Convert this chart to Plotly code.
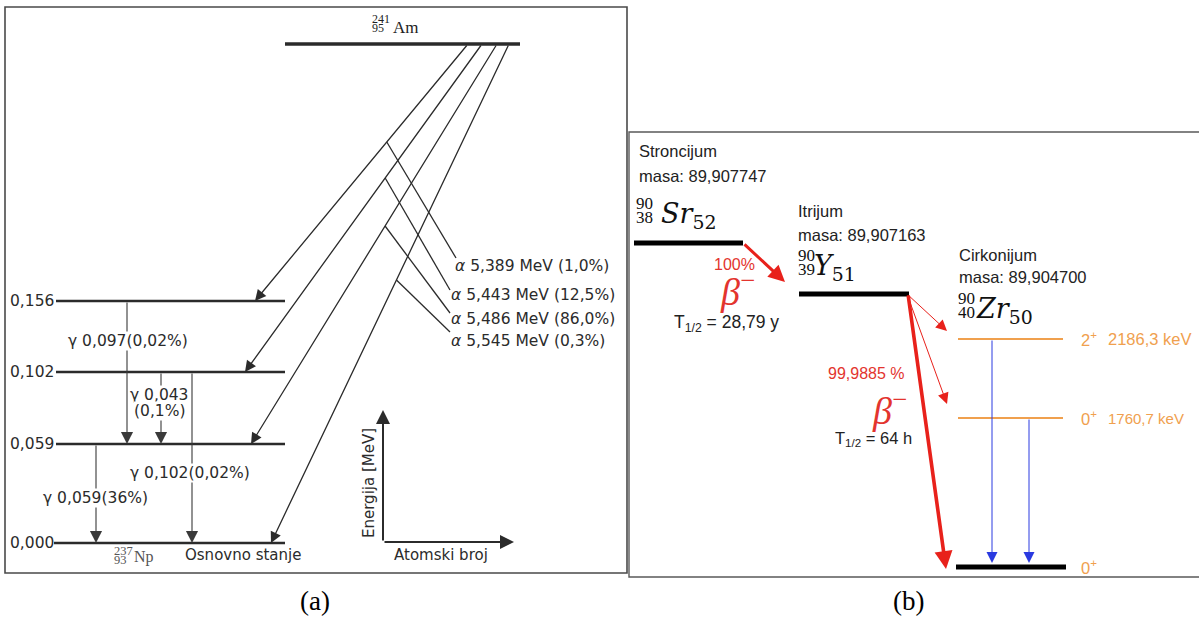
import plotly.graph_objects as go

# ---------------- Am-241 alpha decay into Np-237 (energies in MeV) ----------------
np_level_mev = [0.156, 0.102, 0.059, 0.000]
np_level_text = ["0,156", "0,102", "0,059", "0,000"]

alpha_energy_text = ["5,389", "5,443", "5,486", "5,545"]
alpha_intensity = ["1,0%", "12,5%", "86,0%", "0,3%"]
alpha_final_level = [0.156, 0.102, 0.059, 0.000]

gamma_from = [0.156, 0.102, 0.102, 0.059]
gamma_to = [0.059, 0.059, 0.000, 0.000]
gamma_energy_text = ["0,097", "0,043", "0,102", "0,059"]
gamma_intensity = ["0,02%", "0,1%", "0,02%", "36%"]

# ---------------- Sr-90 -> Y-90 -> Zr-90 beta decay chain ----------------
chain_name = ["Stroncijum", "Itrijum", "Cirkonijum"]
chain_mass = ["89,907747", "89,907163", "89,904700"]
chain_symbol = ["Sr", "Y", "Zr"]
chain_A = [90, 90, 90]
chain_Z = [38, 39, 40]
chain_N = [52, 51, 50]
beta_branch = ["100%", "99,9885 %"]
half_life = ["28,79 y", "64 h"]
zr_level_kev = [2186.3, 1760.7, 0.0]
zr_level_spin = ["2", "0", "0"]
zr_level_text = ["2186,3 keV", "1760,7 keV", ""]

# ---------------- drawing layout (canvas units) ----------------
W, H = 1199, 619
NP_Y = {0.156: 301, 0.102: 372, 0.059: 444, 0.000: 543}
NP_X0, NP_X1 = 56, 285
AM_Y, AM_X0, AM_X1 = 44, 285, 520
ALPHA_X_START = [468, 482, 497, 509]
ALPHA_X_END = [255, 245, 251, 271]
BRANCH_Y = [142, 178, 226, 280]
BRANCH_END = [(456, 258), (450, 290), (450, 313), (450, 332)]
ALPHA_LABEL = [(454, 266), (450, 295), (450, 319), (450, 341)]
GAMMA_X = [127, 161, 192, 96]
GAMMA_LABEL = [(128, 341), (159, 395), (190, 473), (95, 498)]

# nuclide blocks in panel (b): text column x, name y, scripts (x, centre y), symbol x
CHAIN_TXT_X = [638, 797, 958]
CHAIN_NAME_Y = [151, 211, 255]
CHAIN_MASS_Y = [176, 235, 277]
CHAIN_SC = [(635, 210), (797, 262), (957, 305)]
CHAIN_SYM_X = [660, 813, 975]
CHAIN_LEVEL = [(634, 743, 243), (799, 909, 294)]

ZR_Y = {2186.3: 339, 1760.7: 418, 0.0: 567}

DARK = "#2b2b2b"
RED = "#e8211b"
RED_TXT = "#e3342e"
ORANGE = "#f0a04e"
BLUE = "#2a3ae0"
SANS_A = "DejaVu Sans"
SANS_B = "Liberation Sans"
SERIF = "Liberation Serif"
MATH = "DejaVu Serif"

fig = go.Figure()
ann = []


def seg(x0, y0, x1, y1, color=DARK, width=1.3):
    fig.add_trace(go.Scatter(x=[x0, x1], y=[y0, y1], mode="lines",
                             line=dict(color=color, width=width),
                             hoverinfo="skip", showlegend=False))


def arrow(x0, y0, x1, y1, color=DARK, width=1.2, size=2.0, head=2):
    ann.append(dict(x=x1, y=y1, ax=x0, ay=y0, xref="x", yref="y",
                    axref="x", ayref="y", text="", showarrow=True,
                    arrowhead=head, arrowsize=size, arrowwidth=width,
                    arrowcolor=color, standoff=0, startstandoff=0))


def text(x, y, s, size=15.5, color=DARK, family=SANS_A, xanchor="center",
         yanchor="middle", angle=0, bg=None):
    d = dict(x=x, y=y, xref="x", yref="y", text=s, showarrow=False,
             font=dict(family=family, size=size, color=color),
             xanchor=xanchor, yanchor=yanchor, textangle=angle,
             borderpad=0)
    if bg:
        d["bgcolor"] = bg
    ann.append(d)


def scripts(x, yc, A, Z, size, color, dy=7):
    # mass number above atomic number, left of the element symbol
    text(x, yc - dy, str(A), size=size, color=color, family=SERIF,
         xanchor="left")
    text(x, yc + dy, str(Z), size=size, color=color, family=SERIF,
         xanchor="left")


# ---------------- panel (a) ----------------
# energy levels of Np-237
for e, lab in zip(np_level_mev, np_level_text):
    seg(NP_X0 if e > 0 else 54, NP_Y[e], NP_X1, NP_Y[e], width=2.6)
    text(9, NP_Y[e], lab, xanchor="left")

# Am-241 parent level
seg(AM_X0, AM_Y, AM_X1, AM_Y, width=3.5)
scripts(371, 23, 241, 95, 12, "#222", dy=4.5)
text(392, 27, "Am", size=17, family=SERIF, color="#222", xanchor="left")

# alpha transitions and their labels
for i, lvl in enumerate(alpha_final_level):
    xs, xe, ye = ALPHA_X_START[i], ALPHA_X_END[i], NP_Y[lvl]
    arrow(xs, AM_Y, xe, ye, width=1.3, size=1.7)
    by = BRANCH_Y[i]
    bx = xs + (xe - xs) * (by - AM_Y) / (ye - AM_Y)
    seg(bx, by, BRANCH_END[i][0], BRANCH_END[i][1], width=1.3)
    lx, ly = ALPHA_LABEL[i]
    text(lx, ly, f"<i>α</i> {alpha_energy_text[i]} MeV ({alpha_intensity[i]})",
         xanchor="left")

# gamma transitions
for i in range(len(gamma_from)):
    arrow(GAMMA_X[i], NP_Y[gamma_from[i]], GAMMA_X[i], NP_Y[gamma_to[i]],
          color="#3a3a3a", width=1.1, size=2.2)
for i in range(len(gamma_from)):
    lx, ly = GAMMA_LABEL[i]
    if i == 1:
        text(lx, ly, f"γ {gamma_energy_text[i]}", bg="white")
        text(lx, ly + 16, f"({gamma_intensity[i]})", bg="white")
    else:
        text(lx, ly, f"γ {gamma_energy_text[i]}({gamma_intensity[i]})",
             bg="white")

# ground state labels
scripts(113, 555, 237, 93, 12.5, "#555", dy=4.5)
text(133, 557, "Np", size=16, family=SERIF, color="#555", xanchor="left")
text(184, 555, "Osnovno stanje", size=15, xanchor="left")

# small energy / atomic number axes
arrow(383, 542, 383, 410, width=2, size=1.4)
arrow(383, 542, 514, 542, width=2, size=1.4)
text(369, 483, "Energija [MeV]", size=15, angle=-90)
text(441, 555, "Atomski broj", size=15)

# ---------------- panel (b) ----------------
for k in range(3):
    text(CHAIN_TXT_X[k], CHAIN_NAME_Y[k], chain_name[k], size=16.5,
         family=SANS_B, color="#222", xanchor="left")
    text(CHAIN_TXT_X[k], CHAIN_MASS_Y[k], f"masa: {chain_mass[k]}",
         size=16.5, family=SANS_B, color="#222", xanchor="left")
    sx, sy = CHAIN_SC[k]
    scripts(sx, sy, chain_A[k], chain_Z[k], 17, "#111")
    text(CHAIN_SYM_X[k], sy + 5,
         f"<i>{chain_symbol[k]}</i><sub>{chain_N[k]}</sub>",
         size=27, family=MATH, color="#111", xanchor="left")

for x0, x1, y in CHAIN_LEVEL:
    seg(x0, y, x1, y, color="black", width=5)

# Zr-90 levels
for k, e in enumerate(zr_level_kev):
    y = ZR_Y[e]
    if e > 0:
        seg(958, y, 1063, y, color=ORANGE, width=2)
    else:
        seg(956, y, 1066, y, color="black", width=5)
    text(1080, y, f"{zr_level_spin[k]}<sup>+</sup>", size=16.5,
         family=SANS_B, color=ORANGE, xanchor="left")
    if zr_level_text[k]:
        text(1107, y, zr_level_text[k], size=16.5 if k == 0 else 15,
             family=SANS_B, color=ORANGE, xanchor="left")

# beta transitions
arrow(743, 243, 785, 282, color=RED, width=3, size=1.1)
arrow(908, 294, 946, 569, color=RED, width=3.6, size=1.0)
arrow(907, 294, 947, 331, color=RED, width=1, size=2.2)
arrow(907, 294, 947, 404, color=RED, width=1, size=2.2)

# gamma de-excitation
arrow(992, ZR_Y[2186.3], 992, 563, color=BLUE, width=1, size=2.2)
arrow(1029, ZR_Y[1760.7], 1029, 563, color=BLUE, width=1, size=2.2)

# beta labels
text(734, 264, beta_branch[0], size=16, family=SANS_B, color=RED_TXT)
text(737, 289, "<i>β</i><sup>−</sup>", size=38, family=SERIF, color=RED_TXT)
text(673, 323, f"T<sub>1/2</sub> = {half_life[0]}", size=17.5,
     family=SANS_B, color="#222", xanchor="left")
text(866, 373, beta_branch[1], size=16, family=SANS_B, color=RED_TXT)
text(889, 408, "<i>β</i><sup>−</sup>", size=38, family=SERIF, color=RED_TXT)
text(834, 439, f"T<sub>1/2</sub> = {half_life[1]}", size=16.5,
     family=SANS_B, color="#222", xanchor="left")

# captions
text(315, 601, "(a)", size=27, family=SERIF, color="black")
text(908, 601, "(b)", size=27, family=SERIF, color="black")

shapes = [
    dict(type="rect", xref="x", yref="y", x0=5, y0=7, x1=627, y1=573,
         line=dict(color="#4a4a4a", width=1.6), layer="below"),
    dict(type="rect", xref="x", yref="y", x0=629, y0=132, x1=1210, y1=577,
         line=dict(color="#5a5a5a", width=1.4), layer="below"),
]

fig.update_layout(
    width=W, height=H,
    margin=dict(l=0, r=0, t=0, b=0),
    paper_bgcolor="white", plot_bgcolor="white",
    xaxis=dict(range=[0, W], visible=False, fixedrange=True),
    yaxis=dict(range=[H, 0], visible=False, fixedrange=True),
    annotations=ann, shapes=shapes, showlegend=False,
)

fig.write_html("out.html", config={"displayModeBar": False})
